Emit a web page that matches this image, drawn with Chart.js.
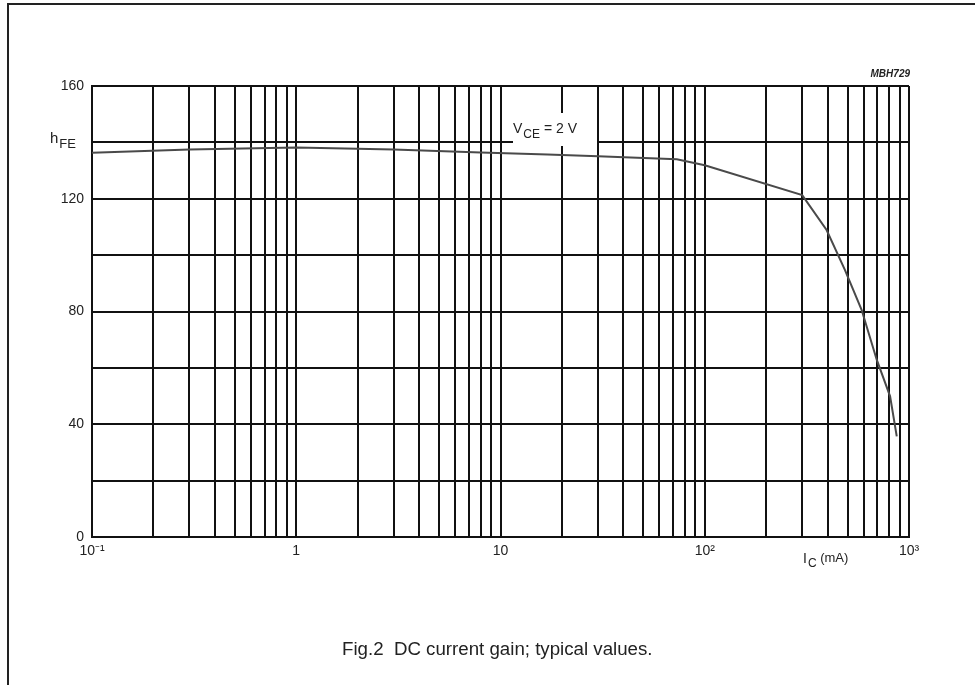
<!DOCTYPE html>
<html>
<head>
<meta charset="utf-8">
<script src="https://cdn.jsdelivr.net/npm/chart.js@4.4.0/dist/chart.umd.min.js"></script>
<style>
  body { margin: 0; background: #fff; }
  #wrap { width: 975px; height: 685px; position: relative; }
</style>
</head>
<body>
<div id="wrap"><canvas id="chart"></canvas></div>
<script>
// DC current gain, typical values
const icValues  = [0.1, 0.3, 1, 3, 8, 17, 30, 73, 100, 300, 395, 486, 586, 695, 808, 871];
const hfeValues = [136.3, 137.5, 138.2, 137.5, 136.4, 135.7, 135.1, 134.0, 131.9, 121.3, 108.9, 94.7, 80.6, 62.9, 49.9, 35.7];

// log grid lines and labelled decades
const xGridValues = [0.1, 0.2, 0.3, 0.4, 0.5, 0.6, 0.7, 0.8, 0.9,
                     1, 2, 3, 4, 5, 6, 7, 8, 9,
                     10, 20, 30, 40, 50, 60, 70, 80, 90,
                     100, 200, 300, 400, 500, 600, 700, 800, 900, 1000];
const xLabelValues = [0.1, 1, 10, 100, 1000];
const xLabelTexts  = ['10⁻¹', '1', '10', '10²', '10³'];
const yLabelValues = [0, 40, 80, 120, 160];

const FONT = '"Liberation Sans", Arial, sans-serif';

// text with a subscript part, e.g. h_FE
function drawSub(ctx, base, sub, x, y, size, subSize, dy) {
    ctx.font = size + 'px ' + FONT;
    ctx.fillText(base, x, y);
    const w = ctx.measureText(base).width;
    ctx.font = subSize + 'px ' + FONT;
    ctx.fillText(sub, x + w + 1, y + dy);
    return x + w + 1 + ctx.measureText(sub).width;
}

const overlay = {
    id: 'overlay',
    beforeDatasetsDraw(chart) {
        const ctx = chart.ctx;
        ctx.save();
        // white patch behind the V_CE label, cuts the grid like the original
        ctx.fillStyle = '#fff';
        ctx.fillRect(513, 113, 84, 33);
        ctx.fillStyle = '#222';
        ctx.textBaseline = 'alphabetic';
        let x = drawSub(ctx, 'V', 'CE', 513, 133, 14, 12, 5);
        ctx.font = '14px ' + FONT;
        ctx.fillText(' = 2 V', x, 133);
        ctx.restore();
    },
    afterDraw(chart) {
        const ctx = chart.ctx;
        ctx.save();
        // page frame (left and top)
        ctx.strokeStyle = '#222';
        ctx.lineWidth = 2;
        ctx.beginPath();
        ctx.moveTo(8, 685);
        ctx.lineTo(8, 4);
        ctx.lineTo(975, 4);
        ctx.stroke();

        ctx.fillStyle = '#222';
        ctx.textBaseline = 'alphabetic';
        drawSub(ctx, 'h', 'FE', 50, 143, 15, 13, 5);

        let x = drawSub(ctx, 'I', 'C', 803, 563, 14, 12, 4);
        ctx.font = '13px ' + FONT;
        ctx.fillText(' (mA)', x, 562);

        ctx.font = 'italic bold 10px ' + FONT;
        ctx.textAlign = 'right';
        ctx.fillText('MBH729', 910, 77);

        ctx.textAlign = 'left';
        ctx.font = '18.7px ' + FONT;
        ctx.fillText('Fig.2  DC current gain; typical values.', 342, 655);
        ctx.restore();
    }
};

const ctx = document.getElementById('chart').getContext('2d');
const chart = new Chart(ctx, {
    type: 'scatter',
    data: {
        datasets: [{
            data: icValues.map((v, i) => ({ x: v, y: hfeValues[i] })),
            showLine: true,
            borderColor: '#4a4a4a',
            borderWidth: 2,
            pointRadius: 0,
            tension: 0
        }]
    },
    options: {
        responsive: true,
        maintainAspectRatio: false,
        animation: false,
        layout: { padding: { left: 0, top: 86, right: 66, bottom: 118 } },
        plugins: { legend: { display: false }, tooltip: { enabled: false } },
        scales: {
            x: {
                type: 'logarithmic',
                min: 0.1,
                max: 1000,
                afterBuildTicks: (scale) => { scale.ticks = xGridValues.map(v => ({ value: v })); },
                afterFit: (scale) => { scale.height = 30; },
                grid: { color: '#111', lineWidth: 2, drawTicks: false },
                border: { color: '#111', width: 2 },
                ticks: {
                    autoSkip: false,
                    maxRotation: 0,
                    padding: 6,
                    color: '#222',
                    font: { family: FONT, size: 14 },
                    callback: (v) => {
                        const i = xLabelValues.indexOf(v);
                        return i >= 0 ? xLabelTexts[i] : '';
                    }
                }
            },
            y: {
                min: 0,
                max: 160,
                afterFit: (scale) => { scale.width = 92; },
                grid: { color: '#111', lineWidth: 2, drawTicks: false },
                border: { color: '#111', width: 2 },
                ticks: {
                    stepSize: 20,
                    padding: 8,
                    color: '#222',
                    font: { family: FONT, size: 14 },
                    callback: (v) => yLabelValues.includes(v) ? String(v) : ''
                }
            }
        }
    },
    plugins: [overlay]
});
</script>
</body>
</html>
